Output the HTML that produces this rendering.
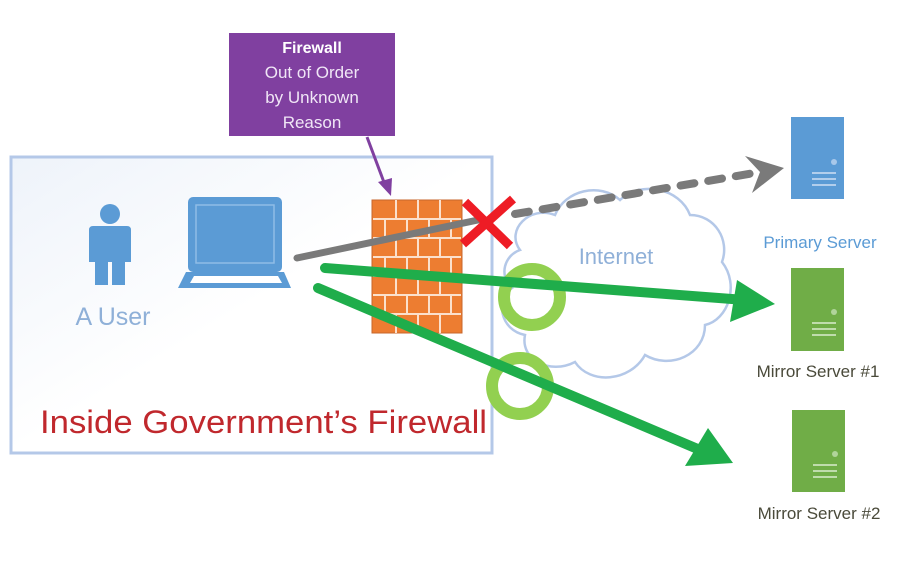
<!DOCTYPE html>
<html><head><meta charset="utf-8"><style>
html,body{margin:0;padding:0;background:#fff;}
svg{display:block;}
text{font-family:"Liberation Sans",sans-serif;}
</style></head><body>
<svg width="922" height="582" viewBox="0 0 922 582" xmlns="http://www.w3.org/2000/svg">
<defs>
<linearGradient id="bg" x1="0" y1="0" x2="1" y2="1">
<stop offset="0" stop-color="#eef3fa"/><stop offset="0.5" stop-color="#ffffff"/><stop offset="1" stop-color="#ffffff"/>
</linearGradient>
</defs>
<rect x="11" y="157" width="481" height="296" fill="url(#bg)" stroke="#b4c8e8" stroke-width="3"/>
<path d="M520,250 C505,230 530,205 555,215 C565,190 600,182 620,200 C640,180 680,188 690,215 C715,215 730,240 722,262 C740,285 728,320 705,325 C705,355 670,370 645,355 C630,382 590,385 575,362 C550,375 520,360 525,335 C500,330 495,300 512,288 C498,275 505,255 520,250 Z" fill="#fff" stroke="#b4c8e8" stroke-width="2.5"/>
<text x="616" y="264" font-size="22" fill="#8fb0d8" text-anchor="middle">Internet</text>
<rect x="229" y="33" width="166" height="103" fill="#8040a0"/>
<text x="312" y="53" font-size="16" font-weight="bold" fill="#fff" text-anchor="middle">Firewall</text>
<text x="312" y="78" font-size="17" fill="#f0e6f6" text-anchor="middle">Out of Order</text>
<text x="312" y="103" font-size="17" fill="#f0e6f6" text-anchor="middle">by Unknown</text>
<text x="312" y="128" font-size="17" fill="#f0e6f6" text-anchor="middle">Reason</text>
<line x1="367" y1="137" x2="385" y2="185" stroke="#8040a0" stroke-width="3"/>
<polygon points="378,182 392,178 391,196" fill="#8040a0"/>
<g fill="#5b9bd5">
<circle cx="110" cy="214" r="10"/>
<path d="M93,226 H127 Q131,226 131,230 V262 H125 V285 H112 V262 H108 V285 H95 V262 H89 V230 Q89,226 93,226 Z"/>
</g>
<text x="113" y="325" font-size="25" fill="#8fb0d8" text-anchor="middle">A User</text>
<g>
<rect x="188" y="197" width="94" height="75" rx="5" fill="#5b9bd5"/>
<rect x="196" y="205" width="78" height="58" fill="none" stroke="#8fbce6" stroke-width="1.5"/>
<path d="M186,272 H284 L291,288 H178 Z" fill="#5b9bd5"/>
<path d="M194,276 H278 L282,283 H190 Z" fill="#fff"/>
</g>
<g>
<rect x="372" y="200" width="90" height="133" fill="#ed7d31" stroke="#c7662b" stroke-width="1"/>
<g stroke="#fbe0cc" stroke-width="2">
<line x1="373" y1="219" x2="461" y2="219"/><line x1="373" y1="238" x2="461" y2="238"/>
<line x1="373" y1="257" x2="461" y2="257"/><line x1="373" y1="276" x2="461" y2="276"/>
<line x1="373" y1="295" x2="461" y2="295"/><line x1="373" y1="314" x2="461" y2="314"/>
<line x1="396" y1="200" x2="396" y2="219"/><line x1="418" y1="200" x2="418" y2="219"/><line x1="440" y1="200" x2="440" y2="219"/>
<line x1="385" y1="219" x2="385" y2="238"/><line x1="407" y1="219" x2="407" y2="238"/><line x1="429" y1="219" x2="429" y2="238"/><line x1="451" y1="219" x2="451" y2="238"/>
<line x1="396" y1="238" x2="396" y2="257"/><line x1="418" y1="238" x2="418" y2="257"/><line x1="440" y1="238" x2="440" y2="257"/>
<line x1="385" y1="257" x2="385" y2="276"/><line x1="407" y1="257" x2="407" y2="276"/><line x1="429" y1="257" x2="429" y2="276"/><line x1="451" y1="257" x2="451" y2="276"/>
<line x1="396" y1="276" x2="396" y2="295"/><line x1="418" y1="276" x2="418" y2="295"/><line x1="440" y1="276" x2="440" y2="295"/>
<line x1="385" y1="295" x2="385" y2="314"/><line x1="407" y1="295" x2="407" y2="314"/><line x1="429" y1="295" x2="429" y2="314"/><line x1="451" y1="295" x2="451" y2="314"/>
<line x1="396" y1="314" x2="396" y2="333"/><line x1="418" y1="314" x2="418" y2="333"/><line x1="440" y1="314" x2="440" y2="333"/>
</g>
</g>
<text x="40" y="433" font-size="32" fill="#c0282d" textLength="447" lengthAdjust="spacingAndGlyphs">Inside Government’s Firewall</text>
<line x1="297" y1="258" x2="478" y2="220" stroke="#7a7a7a" stroke-width="7" stroke-linecap="round"/>
<line x1="515" y1="214" x2="760" y2="172" stroke="#7a7a7a" stroke-width="8" stroke-linecap="round" stroke-dasharray="14,14"/>
<polygon points="745,156 784,168 752,193 760,172" fill="#7a7a7a"/>
<g stroke="#ee1c25" stroke-width="9">
<line x1="465" y1="202" x2="510" y2="246"/><line x1="513" y1="199" x2="463" y2="244"/>
</g>
<circle cx="532" cy="297" r="28" fill="none" stroke="#92d050" stroke-width="12"/>
<circle cx="520" cy="386" r="28" fill="none" stroke="#92d050" stroke-width="12"/>
<line x1="325" y1="268" x2="745" y2="300" stroke="#1fad4b" stroke-width="10" stroke-linecap="round"/>
<polygon points="737,280 775,304 730,322" fill="#1fad4b"/>
<line x1="318" y1="288" x2="700" y2="450" stroke="#1fad4b" stroke-width="10" stroke-linecap="round"/>
<polygon points="708,428 733,463 685,466" fill="#1fad4b"/>
<g>
<rect x="791" y="117" width="53" height="82" fill="#5b9bd5"/>
<circle cx="834" cy="162" r="3" fill="#a8c8ea"/>
<g stroke="#cfe0f3" stroke-width="1.5"><line x1="812" y1="173" x2="836" y2="173"/><line x1="812" y1="179" x2="836" y2="179"/><line x1="812" y1="185" x2="836" y2="185"/></g>
<text x="820" y="248" font-size="17" fill="#5b9bd5" text-anchor="middle">Primary Server</text>
<rect x="791" y="268" width="53" height="83" fill="#70ad47"/>
<circle cx="834" cy="312" r="3" fill="#b0d49a"/>
<g stroke="#d9ebcd" stroke-width="1.5"><line x1="812" y1="323" x2="836" y2="323"/><line x1="812" y1="329" x2="836" y2="329"/><line x1="812" y1="335" x2="836" y2="335"/></g>
<text x="818" y="377" font-size="17" fill="#4a4a3a" text-anchor="middle">Mirror Server #1</text>
<rect x="792" y="410" width="53" height="82" fill="#70ad47"/>
<circle cx="835" cy="454" r="3" fill="#b0d49a"/>
<g stroke="#d9ebcd" stroke-width="1.5"><line x1="813" y1="465" x2="837" y2="465"/><line x1="813" y1="471" x2="837" y2="471"/><line x1="813" y1="477" x2="837" y2="477"/></g>
<text x="819" y="519" font-size="17" fill="#4a4a3a" text-anchor="middle">Mirror Server #2</text>
</g>
</svg>
</body></html>
